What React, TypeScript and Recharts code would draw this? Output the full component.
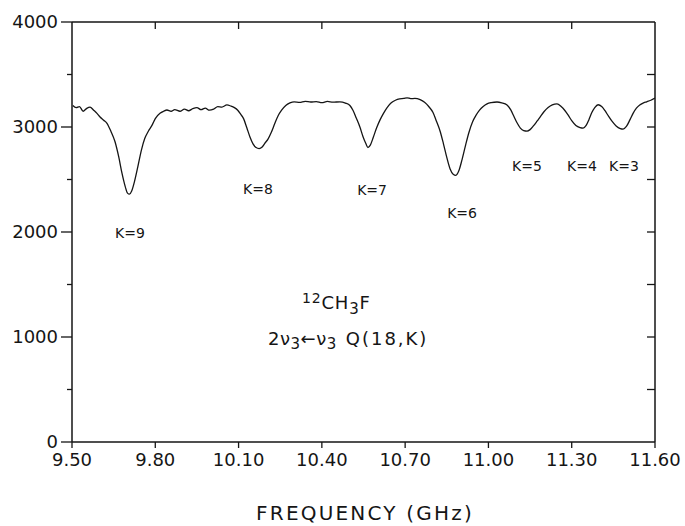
import React from "react";
import {
  ComposedChart,
  Line,
  XAxis,
  YAxis,
  ReferenceDot,
} from "recharts";

// Frequency (GHz) and signal
const FREQ = [
  9.503, 9.515, 9.527, 9.54, 9.552, 9.565, 9.578, 9.59, 9.601, 9.614, 9.626, 9.64,
  9.655, 9.668, 9.68, 9.692, 9.7, 9.707, 9.715, 9.725, 9.737, 9.75, 9.762, 9.775,
  9.788, 9.8, 9.817, 9.83, 9.842, 9.857, 9.87, 9.889, 9.905, 9.92, 9.935, 9.95,
  9.965, 9.98, 9.995, 10.01, 10.025, 10.04, 10.058, 10.072, 10.085, 10.097, 10.108,
  10.118, 10.13, 10.141, 10.152, 10.163, 10.174, 10.185, 10.196, 10.206, 10.218,
  10.23, 10.242, 10.255, 10.27, 10.285, 10.3, 10.32, 10.34, 10.36, 10.38, 10.4,
  10.42, 10.44, 10.465, 10.485, 10.501, 10.512, 10.524, 10.537, 10.548, 10.558,
  10.566, 10.575, 10.585, 10.597, 10.61, 10.622, 10.635, 10.65, 10.665, 10.68,
  10.695, 10.707, 10.72, 10.735, 10.754, 10.77, 10.785, 10.8, 10.812, 10.826,
  10.838, 10.85, 10.862, 10.873, 10.883, 10.893, 10.905, 10.918, 10.93, 10.943,
  10.955, 10.968, 10.981, 10.995, 11.01, 11.031, 11.048, 11.067, 11.08, 11.092,
  11.103, 11.115, 11.127, 11.139, 11.15, 11.162, 11.175, 11.186, 11.2, 11.215,
  11.23, 11.247, 11.262, 11.276, 11.288, 11.3, 11.315, 11.33, 11.341, 11.352,
  11.362, 11.372, 11.383, 11.395, 11.408, 11.42, 11.432, 11.445, 11.46, 11.475,
  11.485, 11.497, 11.51, 11.521, 11.533, 11.545, 11.557, 11.57, 11.585, 11.6,
];

const SIGNAL = [
  3205, 3185, 3195, 3150, 3175, 3190, 3160, 3130, 3095, 3065, 3035, 2960,
  2860, 2720, 2560, 2430, 2370, 2360, 2390, 2480, 2620, 2780, 2890, 2960,
  3015, 3080, 3130, 3150, 3162, 3150, 3165, 3150, 3170, 3155, 3175, 3185,
  3165, 3180, 3160, 3170, 3195, 3190, 3210, 3200, 3185, 3160, 3120,
  3080, 2990, 2905, 2840, 2805, 2795, 2810, 2850, 2885, 2950,
  3030, 3105, 3160, 3205, 3229, 3240, 3235, 3245, 3238, 3242, 3232,
  3244, 3236, 3240, 3228, 3205, 3160, 3085, 3000, 2910, 2845,
  2805, 2830, 2900, 2990, 3070, 3130, 3185, 3230, 3255, 3268,
  3272, 3278, 3270, 3272, 3260, 3235, 3195, 3140, 3060, 2960,
  2840, 2710, 2600, 2550, 2540, 2580, 2690, 2830, 2950, 3050,
  3110, 3160, 3195, 3220, 3232, 3238, 3230, 3210, 3165, 3100,
  3040, 2990, 2965, 2960, 2975, 3010, 3055, 3095, 3145, 3185,
  3210, 3220, 3195, 3155, 3110, 3060, 3015, 2995, 2990, 3015,
  3070, 3135, 3185, 3212, 3195, 3155, 3105, 3055, 3010, 2985,
  2980, 3005, 3070, 3130, 3180, 3210, 3228, 3240, 3255, 3275,
];

const X_TICKS = [9.5, 9.8, 10.1, 10.4, 10.7, 11.0, 11.3, 11.6];
const Y_TICKS = [0, 500, 1000, 1500, 2000, 2500, 3000, 3500, 4000];

// band labels: text, frequency, signal level where the label sits
const K_LABELS = ["K=9", "K=8", "K=7", "K=6", "K=5", "K=4", "K=3"];
const K_FREQ = [9.709, 10.17, 10.581, 10.905, 11.139, 11.337, 11.488];
const K_LEVEL = [1990, 2410, 2400, 2181, 2629, 2629, 2629];

const data = FREQ.map((f, i) => ({ f, v: SIGNAL[i] }));

const INK = "#151515";
const FONT = "'DejaVu Sans', sans-serif";

// frame edges (from margins + axis sizes below)
const PLOT_TOP = 22;
const PLOT_RIGHT = 655;

function LeftTick(props: any) {
  const { x, y, payload } = props;
  const axisX = x + 14; // tickSize 11 + tickMargin 3
  const major = payload.value % 1000 === 0;
  return (
    <g>
      <line x1={axisX - (major ? 11 : 5)} x2={axisX} y1={y} y2={y} stroke={INK} strokeWidth={1.3} />
      {major ? (
        <text x={x} y={y} dy="0.36em" textAnchor="end" fontSize={18} fontFamily={FONT} fill={INK}>
          {payload.value}
        </text>
      ) : null}
    </g>
  );
}

// inward ticks on the top edge
function TopTick(props: any) {
  const { x, payload } = props;
  if (payload.value === 9.5 || payload.value === 11.6) return <g />;
  return <line x1={x} x2={x} y1={PLOT_TOP} y2={PLOT_TOP + 7} stroke={INK} strokeWidth={1.3} />;
}

// inward ticks on the right edge
function RightTick(props: any) {
  const { y, payload } = props;
  if (payload.value === 0 || payload.value === 4000) return <g />;
  return <line x1={PLOT_RIGHT - 8} x2={PLOT_RIGHT} y1={y} y2={y} stroke={INK} strokeWidth={1.3} />;
}

export default function App() {
  return (
    <div style={{ position: "absolute", left: 0, top: 0, width: 685, height: 526, background: "#fff" }}>
      <ComposedChart
        width={685}
        height={526}
        data={data}
        margin={{ top: 21, right: 29, bottom: 54, left: 0 }}
      >
        <XAxis
          xAxisId="b"
          dataKey="f"
          type="number"
          domain={[9.5, 11.6]}
          ticks={X_TICKS}
          tickFormatter={(v: number) => v.toFixed(2)}
          height={30}
          tickSize={6}
          tickMargin={5}
          axisLine={{ stroke: INK, strokeWidth: 1.5 }}
          tickLine={{ stroke: INK, strokeWidth: 1.3 }}
          tick={{ fontSize: 18, fontFamily: FONT, fill: INK }}
          allowDataOverflow
        />
        <XAxis
          xAxisId="t"
          orientation="top"
          dataKey="f"
          type="number"
          domain={[9.5, 11.6]}
          ticks={X_TICKS}
          height={1}
          tickLine={false}
          tick={<TopTick />}
          interval={0}
          axisLine={{ stroke: INK, strokeWidth: 1.5 }}
          allowDataOverflow
        />
        <YAxis
          yAxisId="l"
          domain={[0, 4000]}
          ticks={Y_TICKS}
          width={72}
          tickSize={11}
          tickMargin={3}
          tickLine={false}
          axisLine={{ stroke: INK, strokeWidth: 1.5 }}
          tick={<LeftTick />}
          interval={0}
        />
        <YAxis
          yAxisId="r"
          orientation="right"
          domain={[0, 4000]}
          ticks={Y_TICKS}
          width={1}
          tickLine={false}
          tick={<RightTick />}
          axisLine={{ stroke: INK, strokeWidth: 1.5 }}
          interval={0}
        />
        {/* transparent copy so the top/right frame axes get scales */}
        <Line
          xAxisId="t"
          yAxisId="r"
          dataKey="v"
          stroke="transparent"
          dot={false}
          activeDot={false}
          isAnimationActive={false}
        />
        <Line
          xAxisId="b"
          yAxisId="l"
          dataKey="v"
          type="monotone"
          stroke={INK}
          strokeWidth={1.3}
          dot={false}
          isAnimationActive={false}
        />
        {K_LABELS.map((k, i) => (
          <ReferenceDot
            key={k}
            xAxisId="b"
            yAxisId="l"
            x={K_FREQ[i]}
            y={K_LEVEL[i]}
            r={0}
            stroke="none"
            fill="none"
            label={{ value: k, position: "center", fontSize: 14, fontFamily: FONT, fill: INK }}
          />
        ))}
      </ComposedChart>

      <div
        style={{
          position: "absolute",
          left: 302,
          top: 294,
          fontFamily: FONT,
          fontSize: 18,
          lineHeight: 1,
          color: INK,
          whiteSpace: "nowrap",
          letterSpacing: 0.8,
        }}
      >
        <span style={{ fontSize: 14, position: "relative", top: -6 }}>12</span>
        <span>CH</span>
        <span style={{ fontSize: 15, position: "relative", top: 5 }}>3</span>
        <span>F</span>
      </div>
      <div
        style={{
          position: "absolute",
          left: 268,
          top: 330,
          fontFamily: FONT,
          fontSize: 18,
          lineHeight: 1,
          color: INK,
          whiteSpace: "nowrap",
          letterSpacing: 0.5,
        }}
      >
        <span>2ν</span>
        <span style={{ fontSize: 15, position: "relative", top: 4 }}>3</span>
        <span>←ν</span>
        <span style={{ fontSize: 15, position: "relative", top: 4 }}>3</span>
        <span style={{ marginLeft: 9, letterSpacing: 2 }}>Q(18,K)</span>
      </div>
      <div
        style={{
          position: "absolute",
          left: 365,
          top: 503,
          transform: "translateX(-50%)",
          fontFamily: FONT,
          fontSize: 20,
          lineHeight: 1,
          color: INK,
          whiteSpace: "nowrap",
          letterSpacing: 2.2,
        }}
      >
        FREQUENCY (GHz)
      </div>
    </div>
  );
}
